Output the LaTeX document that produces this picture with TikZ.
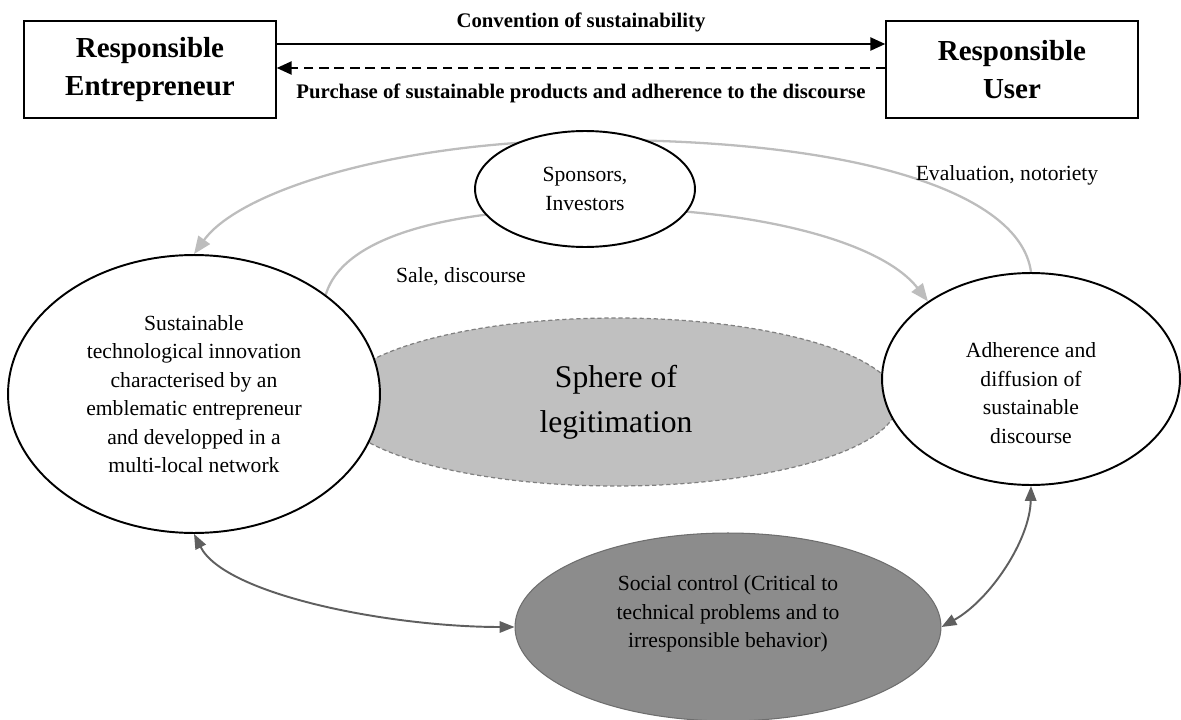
\documentclass[tikz,border=0pt]{standalone}
\usepackage{fontspec}
\setmainfont{Liberation Serif}
\usetikzlibrary{shapes.geometric,arrows.meta}
\pgfdeclarelayer{background}
\pgfsetlayers{background,main}
\definecolor{lgray}{HTML}{BDBDBD}
\definecolor{sphfill}{HTML}{C0C0C0}
\definecolor{sphline}{HTML}{808080}
\definecolor{socfill}{HTML}{8C8C8C}
\definecolor{socline}{HTML}{6E6E6E}
\definecolor{dgray}{HTML}{5F5F5F}
\begin{document}
\begin{tikzpicture}[x=0.02cm,y=-0.02cm,
  actorbox/.style={draw, line width=0.9pt, minimum width=5.04cm, minimum height=1.94cm,
    inner sep=0pt, align=center, font=\fontsize{16.5}{22.8}\selectfont\bfseries},
  ell/.style={ellipse, draw, line width=1.1pt, fill=white, inner sep=0pt, align=center,
    font=\fontsize{12.3}{16.2}\selectfont},
  txt/.style={align=center, inner sep=0pt, font=\fontsize{12.3}{16.2}\selectfont},
  toplabel/.style={inner sep=0pt, font=\fontsize{11.8}{14}\selectfont\bfseries},
  mainarrow/.style={line width=1.1pt, -{Triangle[length=8.5pt,width=7.5pt]}},
  lightarc/.style={draw=lgray, line width=1.3pt, -{Triangle[length=10pt,width=8pt]}},
  darkarc/.style={draw=dgray, line width=1.1pt,
    {Triangle[length=8.5pt,width=6.5pt]}-{Triangle[length=8.5pt,width=6.5pt]}}
]
\useasboundingbox (0,0) rectangle (1181,720);

% top boxes
\node[actorbox] (EB) at (150,69.5) {Responsible\\[-0.05cm]Entrepreneur};
\node[actorbox] (UB) at (1012,69.5) {Responsible\\[-0.05cm]User};

\draw[mainarrow] ([yshift=0.51cm]EB.east) -- ([yshift=0.51cm]UB.west)
  node[toplabel, midway, yshift=0.44cm] (conv) {Convention of sustainability};
\draw[mainarrow, dash pattern=on 5.5pt off 3.3pt] ([yshift=0.03cm]UB.west) -- ([yshift=0.03cm]EB.east)
  node[toplabel, midway, yshift=-0.5cm] (purch) {Purchase of sustainable products and adherence to the discourse};

% ellipses
\node[ell, minimum width=7.44cm, minimum height=5.56cm] (L) at (194,394)
  {Sustainable\\technological innovation\\characterised by an\\emblematic entrepreneur\\and developped in a\\multi-local network};
\node[ell, minimum width=5.96cm, minimum height=4.24cm] (R) at (1031,379) {};
\node[txt] (Rt) at (1031,393) {Adherence and\\diffusion of\\sustainable\\discourse};
\node[ell, minimum width=4.4cm, minimum height=2.32cm] (S) at (585,189) {Sponsors,\\Investors};
\node[ellipse, draw=socline, line width=0.6pt, fill=socfill, minimum width=8.52cm,
  minimum height=3.76cm, inner sep=0pt] (B) at (728,627) {};
\node[txt] (Bt) at (728,614) {Social control (Critical to\\technical problems and to\\irresponsible behavior)};

\begin{pgfonlayer}{background}
  \node[ellipse, draw=sphline, line width=0.7pt, dash pattern=on 2.4pt off 1.6pt,
    fill=sphfill, minimum width=11.28cm, minimum height=3.36cm, inner sep=0pt,
    align=center, font=\fontsize{18}{25.6}\selectfont] (G) at (616,402) {Sphere of\\legitimation};
  % outer arc: evaluation, notoriety
  \draw[lightarc] (R.north) .. controls (1020,190) and (850,140) .. (600,140)
    .. controls (400,140) and (240,190) .. (L.north);
  % inner arc: sale, discourse
  \draw[lightarc] (L.37) .. controls (345,230) and (470,208) .. (600,208)
    .. controls (750,208) and (880,240) .. (R.143);
\end{pgfonlayer}

\node[txt] (sale) at (461,277) {Sale, discourse};
\node[txt] (eval) at (1007,175) {Evaluation, notoriety};

% social control links
\draw[darkarc] (L.south) .. controls (225,595) and (390,627) .. (B.west);
\draw[darkarc] (B.east) .. controls (990,600) and (1030,540) .. (R.south);
\end{tikzpicture}
\end{document}
